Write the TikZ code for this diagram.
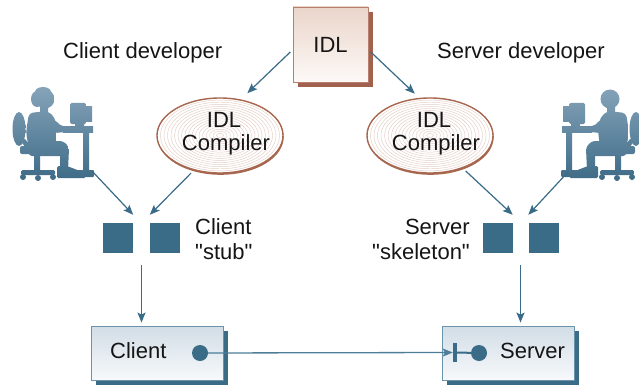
\documentclass[tikz,border=0pt]{standalone}
\usepackage{fontspec}
\setmainfont{Liberation Sans}[Ligatures=TeXOff]
\usetikzlibrary{arrows.meta,shapes.geometric,shadows,calc}

\definecolor{slate}{HTML}{3A6B87}
\definecolor{linkblue}{HTML}{4D7D99}
\definecolor{idlshadow}{HTML}{A2614E}
\definecolor{idlborder}{HTML}{B7806E}
\definecolor{idltop}{HTML}{EAD5CA}
\definecolor{idlbot}{HTML}{FDF9F7}
\definecolor{ellborder}{HTML}{A7674F}
\definecolor{ringcol}{HTML}{E4CDC2}
\definecolor{boxtop}{HTML}{D2DDE6}
\definecolor{boxbot}{HTML}{F7F9FB}
\definecolor{boxborder}{HTML}{6A94AC}
\definecolor{figtop}{HTML}{86A4BA}
\definecolor{figbot}{HTML}{3D6A86}
\definecolor{textcol}{HTML}{151515}

% one piece of a developer silhouette, filled with the shared vertical gradient
\newcommand\figpart[1]{\begin{scope}\clip #1;\shade[top color=figtop,bottom color=figbot] (0,86) rectangle (100,182);\end{scope}}

% developer at a desk, facing right (local coordinates)
\newcommand\deskworker{%
  % chair
  \figpart{(19,129) ellipse [x radius=6.5,y radius=17]}
  \figpart{(20,140) -- (25,139) -- (33,149) -- (28,151) -- cycle}
  \figpart{[rounded corners=2pt] (20,146) rectangle (55,154)}
  \figpart{(34,153) rectangle (40,171)}
  \figpart{[rounded corners=1.5pt] (21,170) rectangle (55,175)}
  \figpart{(23,177) circle [radius=3]}
  \figpart{(38,178) circle [radius=3]}
  \figpart{(53,177) circle [radius=3]}
  % desk and computer
  \figpart{[rounded corners=1.5pt] (70,103) rectangle (86,124)}
  \figpart{(85,107) rectangle (92,121)}
  \figpart{(75,123) rectangle (84,127)}
  \figpart{(63,126) rectangle (93,132)}
  \figpart{(83,131) rectangle (89,172)}
  \figpart{[rounded corners=1pt] (72,170) rectangle (94,177)}
  % person
  \figpart{(45,99) circle [radius=9.5]}
  \figpart{(40,105) rectangle (48,115)}
  \figpart{[rounded corners=4pt] (29,113) -- (48,111) -- (55,118) -- (57,132) -- (55,146) -- (29,150) -- (26,132) -- cycle}
  \figpart{[rounded corners=2pt] (46,115) -- (56,121) -- (61,126) -- (74,126) -- (75,131) -- (55,133) -- (47,128) -- cycle}
  \figpart{[rounded corners=3pt] (27,141) -- (63,141) -- (69,147) -- (68,156) -- (29,156) -- cycle}
  \figpart{(60,150) -- (69,149) -- (68,170) -- (60,170) -- cycle}
  \figpart{[rounded corners=1.5pt] (57,166) -- (67,166) -- (80,171) -- (86,178) -- (57,178) -- cycle}
}

\begin{document}
\begin{tikzpicture}[x=1pt,y=-1pt,
  lbl/.style={font={\fontsize{22}{26}\selectfont}, text=textcol, inner sep=0pt},
  arr/.style={draw=slate, line width=1.2pt, -{Stealth[length=10pt,width=8pt,inset=2pt]}},
  link/.style={draw=linkblue, line width=1.3pt, -{Stealth[length=10pt,width=8pt,inset=2pt]}},
  sq/.style={fill=slate, minimum size=30pt, inner sep=0pt},
  idlbox/.style={draw=idlborder, line width=0.9pt, top color=idltop, bottom color=idlbot,
    minimum size=75pt, inner sep=0pt,
    general shadow={fill=idlshadow, shadow xshift=5pt, shadow yshift=-5pt}},
  compiler/.style={ellipse, draw=ellborder, line width=1.4pt, fill=white,
    minimum width=126pt, minimum height=75pt, inner sep=0pt,
    general shadow={fill=ellborder, shadow xshift=0.6pt, shadow yshift=-1.8pt},
    path picture={\foreach \k in {1,...,18}
      \draw[ringcol, line width=0.45pt] (path picture bounding box.center)
        ellipse [x radius=\k*3.5pt, y radius=\k*2.08pt];}},
  appbox/.style={draw=boxborder, line width=0.9pt, top color=boxtop, bottom color=boxbot,
    minimum width=132pt, minimum height=54pt, inner sep=0pt,
    general shadow={fill=slate, shadow xshift=5pt, shadow yshift=-5pt}},
  dot/.style={circle, fill=slate, minimum size=16pt, inner sep=0pt}
]
\useasboundingbox (0,0) rectangle (639,385);
\fill[white] (0,0) rectangle (639,385);

% developers
\begin{scope}
  \deskworker
  \figpart{(37,99) ellipse [x radius=6,y radius=8]}
  \figpart{(43,92) ellipse [x radius=8,y radius=5]}
\end{scope}
\begin{scope}[xshift=655pt, xscale=-1]
  \deskworker
\end{scope}
\coordinate (devL) at (92,171);
\coordinate (devR) at (568,172);

\node[lbl, anchor=base west] (cdev) at (63,59) {Client developer};
\node[lbl, anchor=base west] (sdev) at (437,59) {Server developer};

% IDL source and the two compilers
\node[idlbox, lbl] (idl) at (330.5,44.5) {IDL};
\node[compiler] (cl) at (220,135.5) {};
\node[compiler] (cr) at (430,135.5) {};
\node[lbl, anchor=base] (cl1) at (224,128) {IDL};
\node[lbl, anchor=base] (cl2) at (226,150) {Compiler};
\node[lbl, anchor=base] (cr1) at (434,128) {IDL};
\node[lbl, anchor=base] (cr2) at (436,150) {Compiler};

% generated stub and skeleton
\node[sq] (sq1) at (118,238) {};
\node[sq] (sq2) at (165,238) {};
\node[sq] (sq3) at (497.5,238) {};
\node[sq] (sq4) at (543.5,238) {};
\node[lbl, anchor=base west] (stub1) at (195,234) {Client};
\node[lbl, anchor=base west] (stub2) at (195,259) {"stub"};
\node[lbl, anchor=base east] (skel1) at (470,234) {Server};
\node[lbl, anchor=base east] (skel2) at (470,259) {"skeleton"};

% client and server programs
\node[appbox] (cbox) at (157,353) {};
\node[appbox] (sbox) at (508,353) {};
\node[lbl, anchor=base west] (ctext) at (110,358) {Client};
\node[lbl, anchor=base west] (stext) at (500,358) {Server};
\node[dot] (cdot) at (200,353) {};
\node[dot] (sdot) at (479,353) {};
\node[fill=slate, minimum width=4pt, minimum height=19pt, inner sep=0pt] (sbar) at (455,352.5) {};
\draw[slate, line width=2pt] (sbar) -- (sdot);
\draw[link] (cdot) -- (sbar.west);

% flow arrows
\draw[arr, shorten <=3pt, shorten >=9pt] (idl.188) -- (cl.60);
\draw[arr, shorten <=3pt, shorten >=6pt] (idl.352) -- (cr.106);
\draw[arr] (devL) -- ([yshift=8pt]sq1.north east);
\draw[arr, shorten <=4pt] (cl.-127) -- ([yshift=8pt]sq2.north west);
\draw[arr, shorten <=4pt] (cr.-45) -- ([yshift=8pt]sq3.north east);
\draw[arr] (devR) -- ([yshift=8pt]sq4.north west);

\coordinate (cmid) at ($(sq1.south)!0.5!(sq2.south)$);
\coordinate (smid) at ($(sq3.south)!0.5!(sq4.south)$);
\draw[arr] ([yshift=-12pt]cmid) -- ([yshift=3pt]cbox.north -| cmid);
\draw[arr] ([yshift=-12pt]smid) -- ([yshift=3pt]sbox.north -| smid);
\end{tikzpicture}
\end{document}
